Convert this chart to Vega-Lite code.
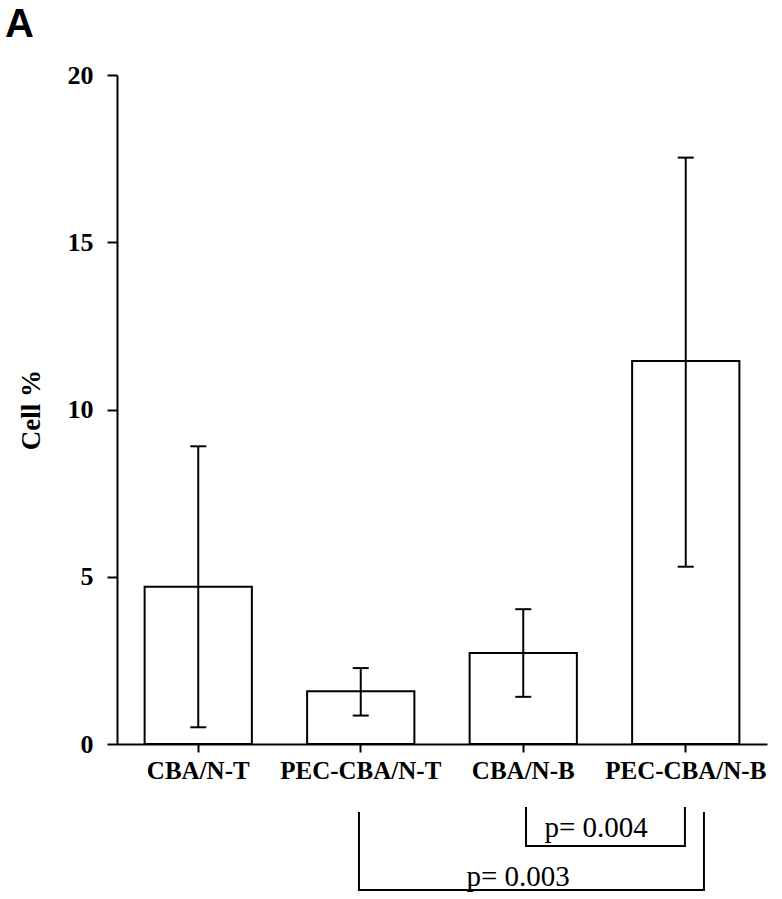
{
  "$schema": "https://vega.github.io/schema/vega-lite/v6.json",
  "padding": {"left": 5, "top": 5, "right": 5, "bottom": 0},
  "background": "white",
  "title": {"text": "A", "anchor": "start", "frame": "bounds", "font": "Liberation Sans", "fontSize": 40, "fontWeight": "bold", "color": "black", "dx": -12, "offset": 17},
  "config": {"view": {"stroke": null}, "concat": {"spacing": 19}},
  "vconcat": [
    {
      "width": 650,
      "height": 669,
      "data": {"values": [
        {"group": "CBA/N-T", "mean": 4.7, "lo": 0.5, "hi": 8.9},
        {"group": "PEC-CBA/N-T", "mean": 1.58, "lo": 0.85, "hi": 2.27},
        {"group": "CBA/N-B", "mean": 2.72, "lo": 1.41, "hi": 4.03},
        {"group": "PEC-CBA/N-B", "mean": 11.45, "lo": 5.3, "hi": 17.53}
      ]},
      "encoding": {
        "x": {"field": "group", "type": "nominal", "sort": null,
          "scale": {"paddingInner": 0.34, "paddingOuter": 0.17},
          "axis": {"title": null, "labelAngle": 0, "labelFont": "Liberation Serif", "labelFontWeight": "bold", "labelFontSize": 25, "labelColor": "black", "tickSize": 8, "tickWidth": 2, "tickColor": "black", "domainColor": "black", "domainWidth": 2, "labelPadding": 6}}
      },
      "layer": [
        {"mark": {"type": "bar", "fill": "white", "stroke": "black", "strokeWidth": 2},
         "encoding": {"y": {"field": "mean", "type": "quantitative", "scale": {"domain": [0, 20], "nice": false},
           "axis": {"values": [0, 5, 10, 15, 20], "grid": false, "title": "Cell %", "titleFont": "Liberation Serif", "titleFontSize": 27, "titleFontWeight": "bold", "titleColor": "black", "titlePadding": 22, "labelFont": "Liberation Serif", "labelFontWeight": "bold", "labelFontSize": 26, "labelColor": "black", "labelPadding": 14, "tickSize": 10, "tickWidth": 2, "tickColor": "black", "domainColor": "black", "domainWidth": 2}}}},
        {"mark": {"type": "rule", "strokeWidth": 2, "color": "black"},
         "encoding": {"y": {"field": "lo", "type": "quantitative"}, "y2": {"field": "hi"}}},
        {"mark": {"type": "tick", "thickness": 2, "size": 16, "color": "black", "opacity": 1},
         "encoding": {"y": {"field": "lo", "type": "quantitative"}}},
        {"mark": {"type": "tick", "thickness": 2, "size": 16, "color": "black", "opacity": 1},
         "encoding": {"y": {"field": "hi", "type": "quantitative"}}}
      ]
    },
    {
      "width": 650,
      "height": 92,
      "layer": [
        {"data": {"values": [
          {"pair": "b1", "k": 1, "bx": 2.517, "by": 5},
          {"pair": "b1", "k": 2, "bx": 2.517, "by": 44},
          {"pair": "b1", "k": 3, "bx": 3.495, "by": 44},
          {"pair": "b1", "k": 4, "bx": 3.495, "by": 5},
          {"pair": "b2", "k": 1, "bx": 1.489, "by": 10},
          {"pair": "b2", "k": 2, "bx": 1.489, "by": 88},
          {"pair": "b2", "k": 3, "bx": 3.612, "by": 88},
          {"pair": "b2", "k": 4, "bx": 3.612, "by": 10}
        ]},
         "mark": {"type": "line", "color": "black", "strokeWidth": 2},
         "encoding": {
           "x": {"field": "bx", "type": "quantitative", "scale": {"domain": [0, 4], "nice": false, "zero": false}, "axis": null},
           "y": {"field": "by", "type": "quantitative", "scale": {"domain": [0, 92], "nice": false, "reverse": true}, "axis": null},
           "detail": {"field": "pair"},
           "order": {"field": "k"}
         }},
        {"data": {"values": [
          {"label": "p= 0.004", "bx": 2.948, "by": 26},
          {"label": "p= 0.003", "bx": 2.468, "by": 75}
        ]},
         "mark": {"type": "text", "font": "Liberation Serif", "fontSize": 29, "color": "black"},
         "encoding": {
           "x": {"field": "bx", "type": "quantitative"},
           "y": {"field": "by", "type": "quantitative"},
           "text": {"field": "label"}
         }}
      ]
    }
  ]
}
